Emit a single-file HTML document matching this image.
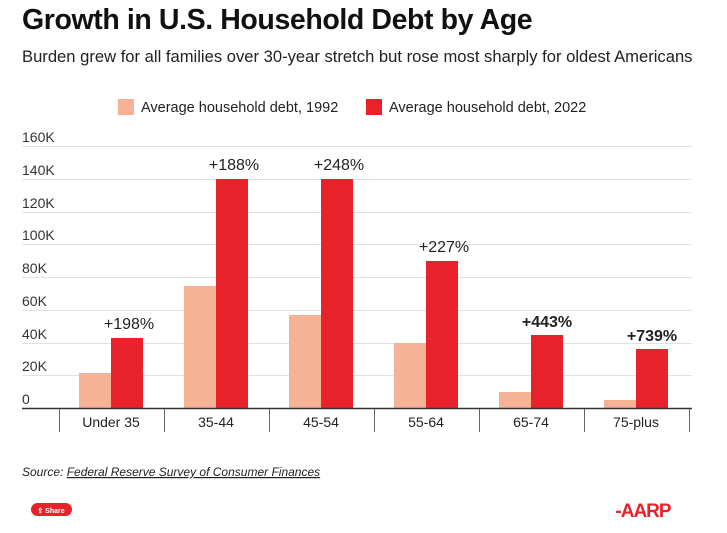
<!DOCTYPE html><html><head><style>
body{margin:0;width:727px;height:533px;background:#fff;font-family:"Liberation Sans",sans-serif;position:relative;overflow:hidden}
.a{position:absolute;white-space:nowrap}
</style></head><body>
<div class="a" style="left:22px;top:4px;font-size:28.5px;font-weight:bold;color:#111;letter-spacing:-0.4px">Growth in U.S. Household Debt by Age</div>
<div class="a" style="left:22px;top:47px;font-size:16.6px;color:#222">Burden grew for all families over 30-year stretch but rose most sharply for oldest Americans</div>
<svg class="a" style="left:0;top:0" width="727" height="533" font-family="Liberation Sans, sans-serif">
<rect x="118" y="99" width="16" height="16" fill="#f6b294"/>
<text x="141" y="112" font-size="14.5" fill="#222">Average household debt, 1992</text>
<rect x="366" y="99" width="16" height="16" fill="#e8222a"/>
<text x="389" y="112" font-size="14.5" fill="#222">Average household debt, 2022</text>
<g stroke="#e2e2e2" stroke-width="1">
<line x1="22" x2="692" y1="146.5" y2="146.5"/><line x1="22" x2="692" y1="179.5" y2="179.5"/><line x1="22" x2="692" y1="212.5" y2="212.5"/><line x1="22" x2="692" y1="244.5" y2="244.5"/><line x1="22" x2="692" y1="277.5" y2="277.5"/><line x1="22" x2="692" y1="310.5" y2="310.5"/><line x1="22" x2="692" y1="343.5" y2="343.5"/><line x1="22" x2="692" y1="375.5" y2="375.5"/>
</g>
<g font-size="14" fill="#333">
<text x="22" y="142">160K</text><text x="22" y="175">140K</text><text x="22" y="208">120K</text><text x="22" y="240">100K</text><text x="22" y="273">80K</text><text x="22" y="306">60K</text><text x="22" y="339">40K</text><text x="22" y="371">20K</text><text x="22" y="404">0</text>
</g>
<g fill="#f6b294">
<rect x="79" y="373" width="32" height="35"/><rect x="184" y="286" width="32" height="122"/><rect x="289" y="315" width="32" height="93"/><rect x="394" y="343" width="32" height="65"/><rect x="499" y="392" width="32" height="16"/><rect x="604" y="400" width="32" height="8"/>
</g>
<g fill="#e8222a">
<rect x="111" y="338" width="32" height="70"/><rect x="216" y="179" width="32" height="229"/><rect x="321" y="179" width="32" height="229"/><rect x="426" y="261" width="32" height="147"/><rect x="531" y="335" width="32" height="73"/><rect x="636" y="349" width="32" height="59"/>
</g>
<line x1="22" x2="692" y1="408.5" y2="408.5" stroke="#333" stroke-width="1.5"/>
<g stroke="#666" stroke-width="1"><line x1="59.5" x2="59.5" y1="409" y2="432"/><line x1="164.5" x2="164.5" y1="409" y2="432"/><line x1="269.5" x2="269.5" y1="409" y2="432"/><line x1="374.5" x2="374.5" y1="409" y2="432"/><line x1="479.5" x2="479.5" y1="409" y2="432"/><line x1="584.5" x2="584.5" y1="409" y2="432"/><line x1="689.5" x2="689.5" y1="409" y2="432"/></g>
<g font-size="14" fill="#222" text-anchor="middle">
<text x="111" y="427">Under 35</text><text x="216" y="427">35-44</text><text x="321" y="427">45-54</text><text x="426" y="427">55-64</text><text x="531" y="427">65-74</text><text x="636" y="427">75-plus</text>
</g>
<g font-size="16" fill="#222" text-anchor="middle">
<text x="129" y="329">+198%</text><text x="234" y="170">+188%</text><text x="339" y="170">+248%</text><text x="444" y="252">+227%</text>
<text x="547" y="327" font-weight="bold">+443%</text><text x="652" y="341" font-weight="bold">+739%</text>
</g>
<text x="22" y="476" font-size="12" font-style="italic" fill="#222">Source: <tspan text-decoration="underline">Federal Reserve Survey of Consumer Finances</tspan></text>
<rect x="31" y="503" width="41" height="13" rx="6.5" fill="#e8222a"/>
<text x="51" y="513" font-size="7" fill="#fff" text-anchor="middle" font-weight="bold">⇪ Share</text>
<text x="643" y="517" font-size="19" font-weight="bold" fill="#e8222a" text-anchor="middle" letter-spacing="-1">-AARP</text>
</svg>
</body></html>
